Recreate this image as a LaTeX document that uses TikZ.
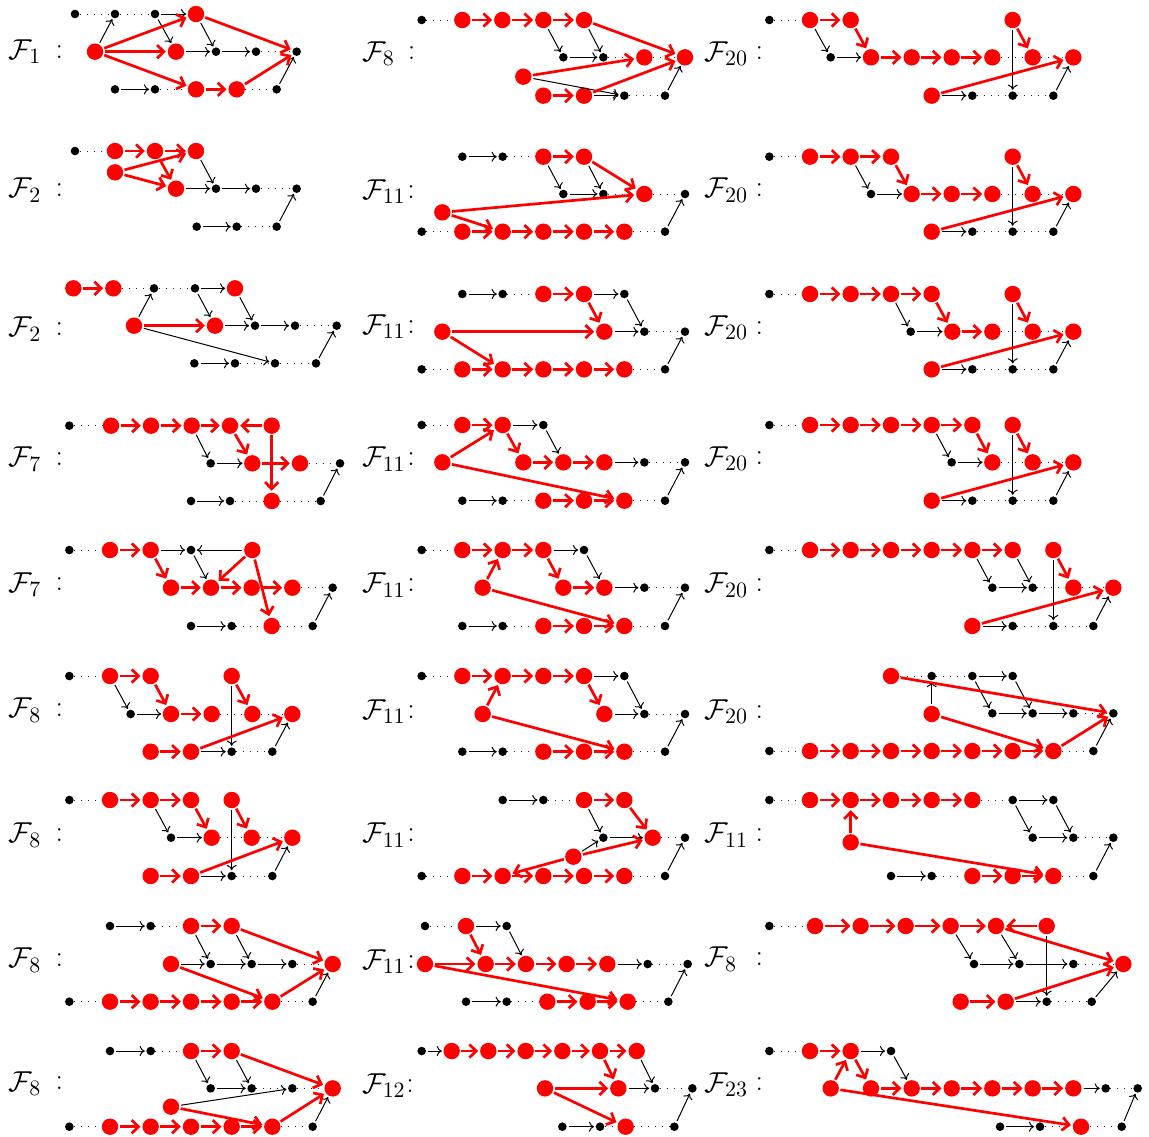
\documentclass[tikz,border=0pt]{standalone}
\usetikzlibrary{arrows.meta}
\tikzset{
  bdot/.style={circle, fill=black, inner sep=0pt, minimum size=4.3pt},
  rdot/.style={circle, fill=red, inner sep=0pt, minimum size=8.2pt},
  dotln/.style={line width=0.5pt, black!85, dash pattern=on 0.5pt off 3pt},
  blk/.style={line width=0.5pt, -{To[length=2.6pt,width=5pt]}, shorten >=0.6pt, shorten <=0.8pt},
  redarr/.style={red, line width=1.35pt, -{Straight Barb[length=3.4pt,width=6.6pt]}, shorten >=0.8pt, shorten <=0.6pt},
  lab/.style={inner sep=0pt, font=\fontsize{15}{18}\selectfont},
  zs/.style 2 args={shift={(#1pt,#2pt)}, x=0.166667pt, y=-0.166667pt}
}
\newcommand\BN[3]{\node[bdot] (\PN#1) at (#2,#3) {};}
\newcommand\RN[3]{\node[rdot] (\PN#1) at (#2,#3) {};}
\newcommand\DE[1]{\foreach \xa/\xb in {#1} {\draw[dotln] (\PN\xa) -- (\PN\xb);}}
\newcommand\KE[1]{\foreach \xa/\xb in {#1} {\draw[blk] (\PN\xa) -- (\PN\xb);}}
\newcommand\RE[1]{\foreach \xa/\xb in {#1} {\draw[redarr] (\PN\xa) -- (\PN\xb);}}
\newcommand\LAB[4]{\node[lab, anchor=west] (\PN lab) at (#1,#3) {$\mathcal{F}_{#4}$};
  \node[lab] (\PN col) at (#2,#3) {:};}
\begin{document}
\begin{tikzpicture}[x=0.5pt, y=-0.5pt]
\fill[white] (0,0) rectangle (1149,1136);
\useasboundingbox (0,0) rectangle (1149,1136);

% ---------- zoom 1 ----------
\begin{scope}[zs={0}{0}]
\def\PN{La}
\BN{a}{225}{42}\BN{b}{345}{42}\BN{c}{465}{42}\RN{d}{588}{42}
\RN{e}{285}{155}\RN{f}{528}{155}\BN{g}{648}{155}\BN{h}{768}{155}\BN{i}{890}{155}
\BN{j}{345}{268}\BN{k}{465}{268}\RN{l}{588}{268}\RN{m}{710}{268}\BN{n}{830}{268}
\DE{a/b,b/c,h/i,k/l,m/n}
\KE{c/d,f/g,g/h,j/k,e/b,c/f,d/g,n/i}
\RE{e/d,e/f,e/l,l/m,d/i,m/i}
\LAB{25}{178}{155}{1}
\def\PN{Lb}
\BN{a}{225}{453}\RN{b}{345}{453}\RN{c}{465}{453}\RN{d}{588}{453}
\RN{e}{345}{517}
\RN{f}{528}{566}\BN{g}{648}{566}\BN{h}{768}{566}\BN{i}{890}{566}
\BN{j}{590}{680}\BN{k}{710}{680}\BN{l}{830}{680}
\DE{a/b,h/i,k/l}
\KE{d/g,f/g,g/h,j/k,l/i}
\RE{b/c,c/d,e/d,e/f,c/f}
\LAB{25}{178}{570}{2}
\end{scope}

% ---------- zoom 2 ----------
\begin{scope}[zs={177.5}{0}]
\def\PN{Ma}
\BN{a}{200}{60}\RN{b}{322}{60}\RN{c}{442}{60}\RN{d}{565}{60}\RN{e}{687}{60}
\BN{f}{625}{172}\BN{g}{745}{172}\RN{h}{868}{172}\RN{i}{990}{172}
\RN{j}{505}{230}
\RN{k}{565}{287}\RN{l}{687}{287}\BN{m}{808}{287}\BN{n}{930}{287}
\DE{a/b,g/h,h/i,m/n}
\KE{d/f,e/g,f/g,l/m,j/m,n/i}
\RE{b/c,c/d,d/e,e/i,j/h,k/l,l/i}
\LAB{20}{170}{160}{8}
\def\PN{Mb}
\BN{a}{322}{470}\BN{b}{443}{470}\RN{c}{565}{470}\RN{d}{687}{470}
\BN{e}{625}{582}\BN{f}{745}{582}\RN{g}{868}{582}\BN{h}{990}{582}
\RN{i}{262}{637}
\BN{j}{200}{695}\RN{k}{322}{695}\RN{l}{443}{695}\RN{m}{565}{695}\RN{n}{687}{695}\RN{o}{808}{695}\BN{p}{930}{695}
\DE{b/c,f/g,g/h,j/k,o/p}
\KE{a/b,c/e,d/f,e/f,p/h}
\RE{c/d,d/g,i/g,i/l,k/l,l/m,m/n,n/o}
\LAB{20}{168}{575}{11}
\end{scope}

% ---------- zoom 3 ----------
\begin{scope}[zs={350}{0}]
\def\PN{Ra}
\BN{a}{208}{60}\RN{b}{330}{60}\RN{c}{452}{60}\RN{d}{938}{60}
\BN{e}{392}{172}\RN{f}{513}{172}\RN{g}{635}{172}\RN{h}{755}{172}\RN{i}{877}{172}\RN{j}{998}{172}\RN{k}{1120}{172}
\RN{l}{695}{287}\BN{m}{817}{287}\BN{n}{938}{287}\BN{o}{1060}{287}
\DE{a/b,i/j,j/k,m/n,n/o}
\KE{b/e,e/f,d/n,l/m,o/k}
\RE{b/c,c/f,f/g,g/h,h/i,d/j,l/k}
\LAB{12}{178}{160}{20}
\def\PN{Rb}
\BN{a}{208}{470}\RN{b}{330}{470}\RN{c}{452}{470}\RN{d}{573}{470}\RN{e}{938}{470}
\BN{f}{513}{582}\RN{g}{635}{582}\RN{h}{755}{582}\RN{i}{877}{582}\RN{j}{998}{582}\RN{k}{1120}{582}
\RN{l}{695}{695}\BN{m}{817}{695}\BN{n}{938}{695}\BN{o}{1060}{695}
\DE{a/b,i/j,j/k,m/n,n/o}
\KE{c/f,f/g,e/n,l/m,o/k}
\RE{b/c,c/d,d/g,g/h,h/i,e/j,l/k}
\LAB{12}{178}{570}{20}
\end{scope}

% ---------- zoom 4 ----------
\begin{scope}[zs={0}{-127.5}]
\def\PN{Lc}
\RN{a}{220}{100}\RN{b}{340}{100}\BN{c}{462}{100}\BN{d}{585}{100}\RN{e}{705}{100}
\RN{f}{402}{212}\RN{g}{645}{212}\BN{h}{765}{212}\BN{i}{885}{212}\BN{j}{1010}{212}
\BN{k}{583}{325}\BN{l}{705}{325}\BN{m}{825}{325}\BN{n}{948}{325}
\DE{b/c,c/d,i/j,l/m,m/n}
\KE{d/e,f/c,d/g,e/h,g/h,h/i,k/l,f/m,n/j}
\RE{a/b,f/g}
\LAB{25}{178}{222}{2}
\def\PN{Ld}
\BN{a}{208}{512}\RN{b}{333}{512}\RN{c}{453}{512}\RN{d}{575}{512}\RN{e}{690}{512}\RN{f}{815}{512}
\BN{g}{632}{625}\RN{h}{757}{625}\RN{i}{900}{625}\BN{j}{1020}{625}
\BN{k}{573}{738}\BN{l}{690}{738}\RN{m}{815}{738}\BN{n}{962}{738}
\DE{a/b,i/j,l/m,m/n}
\KE{d/g,g/h,k/l,n/j}
\RE{b/c,c/d,d/e,f/e,e/h,h/i,f/m}
\LAB{25}{178}{612}{7}
\end{scope}

% ---------- zoom 5 ----------
\begin{scope}[zs={177.5}{-127.5}]
\def\PN{Mc}
\BN{a}{322}{117}\BN{b}{443}{117}\RN{c}{565}{117}\RN{d}{687}{117}\BN{e}{808}{117}
\RN{f}{262}{230}\RN{g}{748}{230}\BN{h}{868}{230}\BN{i}{990}{230}
\BN{j}{200}{343}\RN{k}{322}{343}\RN{l}{443}{343}\RN{m}{565}{343}\RN{n}{687}{343}\RN{o}{808}{343}\BN{p}{930}{343}
\DE{b/c,h/i,j/k,o/p}
\KE{a/b,d/e,g/h,e/h,p/i}
\RE{c/d,d/g,f/g,f/l,k/l,l/m,m/n,n/o}
\LAB{20}{168}{215}{11}
\def\PN{Md}
\BN{a}{200}{510}\RN{b}{322}{510}\RN{c}{443}{510}\BN{d}{565}{510}
\RN{e}{262}{622}\RN{f}{505}{622}\RN{g}{625}{622}\RN{h}{748}{622}\BN{i}{868}{622}\BN{j}{990}{622}
\BN{k}{322}{737}\BN{l}{443}{737}\RN{m}{565}{737}\RN{n}{687}{737}\RN{o}{808}{737}\BN{p}{930}{737}
\DE{a/b,i/j,l/m,o/p}
\KE{c/d,d/g,h/i,k/l,p/j}
\RE{b/c,e/c,c/f,f/g,g/h,e/o,m/n,n/o}
\LAB{20}{168}{612}{11}
\end{scope}

% ---------- zoom 6 ----------
\begin{scope}[zs={350}{-127.5}]
\def\PN{Rc}
\BN{a}{208}{117}\RN{b}{330}{117}\RN{c}{452}{117}\RN{d}{573}{117}\RN{e}{695}{117}\RN{f}{938}{117}
\BN{g}{632}{230}\RN{h}{757}{230}\RN{i}{877}{230}\RN{j}{998}{230}\RN{k}{1120}{230}
\RN{l}{695}{343}\BN{m}{817}{343}\BN{n}{938}{343}\BN{o}{1060}{343}
\DE{a/b,i/j,j/k,m/n,n/o}
\KE{d/g,g/h,f/n,l/m,o/k}
\RE{b/c,c/d,d/e,e/h,h/i,f/j,l/k}
\LAB{12}{178}{218}{20}
\def\PN{Rd}
\BN{a}{208}{510}\RN{b}{330}{510}\RN{c}{452}{510}\RN{d}{573}{510}\RN{e}{695}{510}\RN{f}{817}{510}\RN{g}{938}{510}
\BN{h}{755}{622}\RN{i}{877}{622}\RN{j}{998}{622}\RN{k}{1120}{622}
\RN{l}{695}{737}\BN{m}{817}{737}\BN{n}{938}{737}\BN{o}{1060}{737}
\DE{a/b,i/j,j/k,m/n,n/o}
\KE{e/h,h/i,g/n,l/m,o/k}
\RE{b/c,c/d,d/e,e/f,f/i,g/j,l/k}
\LAB{12}{178}{610}{20}
\end{scope}

% ---------- zoom 7 ----------
\begin{scope}[zs={0}{-257.5}]
\def\PN{Le}
\BN{a}{208}{105}\RN{b}{330}{105}\RN{c}{452}{105}\BN{d}{573}{105}\RN{e}{757}{105}
\RN{f}{513}{218}\RN{g}{633}{218}\RN{h}{755}{218}\RN{i}{877}{218}\BN{j}{998}{218}
\BN{k}{573}{333}\BN{l}{695}{333}\RN{m}{815}{333}\BN{n}{938}{333}
\DE{a/b,i/j,l/m,m/n}
\KE{c/d,e/d,d/g,k/l,n/j}
\RE{b/c,c/f,f/g,g/h,h/i,e/g,e/m}
\LAB{25}{178}{208}{7}
\def\PN{Lf}
\BN{a}{208}{483}\RN{b}{330}{483}\RN{c}{452}{483}\RN{d}{695}{483}
\BN{e}{392}{597}\RN{f}{513}{597}\RN{g}{635}{597}\RN{h}{757}{597}\RN{i}{877}{597}
\RN{j}{452}{710}\RN{k}{573}{710}\BN{l}{695}{710}\BN{m}{817}{710}
\DE{a/b,g/h,h/i,l/m}
\KE{b/e,e/f,d/l,k/l,m/i}
\RE{b/c,c/f,f/g,d/h,j/k,k/i}
\LAB{25}{178}{585}{8}
\end{scope}

% ---------- zoom 8 ----------
\begin{scope}[zs={177.5}{-257.5}]
\def\PN{Me}
\BN{a}{200}{105}\RN{b}{322}{105}\RN{c}{443}{105}\RN{d}{565}{105}\BN{e}{687}{105}
\RN{f}{383}{218}\RN{g}{625}{218}\RN{h}{748}{218}\BN{i}{868}{218}\BN{j}{990}{218}
\BN{k}{322}{333}\BN{l}{443}{333}\RN{m}{565}{333}\RN{n}{687}{333}\RN{o}{808}{333}\BN{p}{930}{333}
\DE{a/b,i/j,l/m,o/p}
\KE{d/e,e/h,h/i,k/l,p/j}
\RE{b/c,c/d,f/c,d/g,g/h,f/o,m/n,n/o}
\LAB{20}{168}{210}{11}
\def\PN{Mf}
\BN{a}{200}{483}\RN{b}{322}{483}\RN{c}{443}{483}\RN{d}{565}{483}\RN{e}{687}{483}\BN{f}{808}{483}
\RN{g}{383}{597}\RN{h}{748}{597}\BN{i}{868}{597}\BN{j}{990}{597}
\BN{k}{322}{710}\BN{l}{443}{710}\RN{m}{565}{710}\RN{n}{687}{710}\RN{o}{808}{710}\BN{p}{930}{710}
\DE{a/b,i/j,l/m,o/p}
\KE{e/f,f/i,h/i,k/l,p/j}
\RE{b/c,c/d,d/e,g/c,e/h,g/o,m/n,n/o}
\LAB{20}{168}{590}{11}
\end{scope}

% ---------- zoom 9 ----------
\begin{scope}[zs={350}{-257.5}]
\def\PN{Re}
\BN{a}{208}{105}\RN{b}{330}{105}\RN{c}{452}{105}\RN{d}{573}{105}\RN{e}{695}{105}\RN{f}{817}{105}\RN{g}{938}{105}\RN{h}{1060}{105}
\BN{i}{877}{218}\BN{j}{998}{218}\RN{k}{1120}{218}\RN{l}{1240}{218}
\RN{m}{817}{333}\BN{n}{938}{333}\BN{o}{1060}{333}\BN{p}{1180}{333}
\DE{a/b,j/k,k/l,n/o,o/p}
\KE{f/i,g/j,i/j,h/o,m/n,p/l}
\RE{b/c,c/d,d/e,e/f,f/g,h/k,m/l}
\LAB{12}{178}{210}{20}
\def\PN{Rf}
\RN{a}{573}{483}\BN{b}{695}{483}\BN{c}{817}{483}\BN{d}{938}{483}
\RN{e}{695}{597}\BN{f}{877}{595}\BN{g}{998}{595}\BN{h}{1120}{595}\BN{i}{1240}{595}
\BN{j}{208}{708}\RN{k}{330}{708}\RN{l}{452}{708}\RN{m}{573}{708}\RN{n}{695}{708}\RN{o}{817}{708}\RN{p}{938}{708}\RN{q}{1060}{708}\BN{r}{1180}{708}
\DE{a/b,b/c,h/i,j/k,q/r}
\KE{c/d,e/b,c/f,d/g,f/g,g/h,r/i}
\RE{a/i,e/q,k/l,l/m,m/n,n/o,o/p,p/q,q/i}
\LAB{12}{178}{590}{20}
\end{scope}

% ---------- zoom 10 ----------
\begin{scope}[zs={0}{-382.5}]
\def\PN{Lg}
\BN{a}{208}{105}\RN{b}{330}{105}\RN{c}{452}{105}\RN{d}{573}{105}\RN{e}{695}{105}
\BN{f}{513}{218}\RN{g}{635}{218}\RN{h}{755}{218}\RN{i}{877}{218}
\RN{j}{452}{333}\RN{k}{573}{333}\BN{l}{695}{333}\BN{m}{817}{333}
\DE{a/b,g/h,h/i,l/m}
\KE{c/f,f/g,e/l,k/l,m/i}
\RE{b/c,c/d,d/g,e/h,j/k,k/i}
\LAB{25}{178}{210}{8}
\def\PN{Lh}
\BN{a}{330}{483}\BN{b}{452}{483}\RN{c}{573}{483}\RN{d}{695}{483}
\RN{e}{513}{597}\BN{f}{632}{597}\BN{g}{755}{597}\BN{h}{877}{597}\RN{i}{998}{597}
\BN{j}{208}{710}\RN{k}{330}{710}\RN{l}{452}{710}\RN{m}{573}{710}\RN{n}{695}{710}\RN{o}{817}{710}\BN{p}{938}{710}
\DE{b/c,h/i,j/k,o/p}
\KE{a/b,c/f,d/g,e/f,f/g,g/h,p/i}
\RE{c/d,d/i,e/o,k/l,l/m,m/n,n/o,o/i}
\LAB{25}{178}{585}{8}
\def\PN{Li}
\BN{a}{330}{858}\BN{b}{452}{858}\RN{c}{573}{858}\RN{d}{695}{858}
\BN{e}{632}{970}\BN{f}{755}{970}\BN{g}{877}{970}\RN{h}{998}{970}
\RN{i}{513}{1025}
\BN{j}{208}{1085}\RN{k}{330}{1085}\RN{l}{452}{1085}\RN{m}{573}{1085}\RN{n}{695}{1085}\RN{o}{817}{1085}\BN{p}{938}{1085}
\DE{b/c,f/g,g/h,j/k,o/p}
\KE{a/b,c/e,d/f,e/f,i/g,p/h}
\RE{c/d,d/h,i/o,k/l,l/m,m/n,n/o,o/h}
\LAB{25}{178}{955}{8}
\end{scope}

% ---------- zoom 11 ----------
\begin{scope}[zs={177.5}{-382.5}]
\def\PN{Mg}
\BN{a}{443}{105}\BN{b}{565}{105}\RN{c}{687}{105}\RN{d}{808}{105}
\BN{e}{745}{218}\RN{f}{893}{218}\BN{g}{990}{218}
\RN{h}{655}{275}
\BN{i}{200}{333}\RN{j}{322}{333}\RN{k}{443}{333}\RN{l}{565}{333}\RN{m}{687}{333}\RN{n}{808}{333}\BN{o}{930}{333}
\DE{b/c,f/g,i/j,n/o}
\KE{a/b,c/e,e/f,h/e,o/g}
\RE{c/d,d/f,h/f,h/k,j/k,k/l,l/m,m/n}
\LAB{20}{168}{210}{11}
\def\PN{Mh}
\BN{a}{210}{483}\RN{b}{333}{483}\BN{c}{455}{483}
\RN{d}{210}{597}\RN{e}{392}{597}\RN{f}{513}{597}\RN{g}{635}{597}\RN{h}{757}{597}\BN{i}{878}{597}\BN{j}{998}{597}
\BN{k}{333}{710}\BN{l}{455}{710}\RN{m}{577}{710}\RN{n}{698}{710}\RN{o}{818}{710}\BN{p}{940}{710}
\DE{a/b,i/j,l/m,o/p}
\KE{b/c,c/f,h/i,k/l,p/j}
\RE{b/e,d/e,e/f,f/g,g/h,d/o,m/n,n/o}
\LAB{20}{168}{590}{11}
\def\PN{Mi}
\BN{a}{200}{858}\RN{b}{290}{858}\RN{c}{400}{858}\RN{d}{512}{858}\RN{e}{622}{858}\RN{f}{735}{858}\RN{g}{845}{858}
\RN{h}{570}{970}\RN{i}{790}{970}\BN{j}{900}{970}\BN{k}{1012}{970}
\BN{l}{622}{1085}\BN{m}{735}{1085}\RN{n}{812}{1085}\BN{o}{958}{1085}
\DE{j/k,m/n,n/o}
\KE{a/b,g/j,i/j,l/m,o/k}
\RE{b/c,c/d,d/e,e/f,f/g,f/i,h/i,h/n}
\LAB{20}{165}{962}{12}
\end{scope}

% ---------- zoom 12 ----------
\begin{scope}[zs={350}{-382.5}]
\def\PN{Rg}
\BN{a}{208}{105}\RN{b}{330}{105}\RN{c}{452}{105}\RN{d}{573}{105}\RN{e}{695}{105}\RN{f}{817}{105}\BN{g}{938}{105}\BN{h}{1060}{105}
\RN{i}{452}{232}\BN{j}{998}{218}\BN{k}{1120}{218}\BN{l}{1240}{218}
\BN{m}{573}{333}\BN{n}{695}{333}\RN{o}{817}{333}\RN{p}{938}{333}\RN{q}{1060}{333}\BN{r}{1180}{333}
\DE{a/b,f/g,k/l,n/o,q/r}
\KE{g/h,g/j,h/k,j/k,m/n,r/l}
\RE{b/c,c/d,d/e,e/f,i/c,i/q,o/p,p/q}
\LAB{12}{178}{210}{11}
\def\PN{Rh}
\BN{a}{208}{483}\RN{b}{345}{483}\RN{c}{482}{483}\RN{d}{617}{483}\RN{e}{752}{483}\RN{f}{888}{483}\RN{g}{1040}{483}
\BN{h}{822}{597}\BN{i}{958}{597}\BN{j}{1120}{597}\RN{k}{1270}{597}
\RN{l}{782}{710}\RN{m}{917}{710}\BN{n}{1040}{710}\BN{o}{1175}{710}
\DE{a/b,j/k,n/o}
\KE{e/h,f/i,h/i,i/j,g/n,m/n,o/k}
\RE{b/c,c/d,d/e,e/f,g/f,f/k,l/m,m/k}
\LAB{12}{178}{582}{8}
\def\PN{Ri}
\BN{a}{208}{858}\RN{b}{330}{858}\RN{c}{452}{858}\BN{d}{573}{858}
\RN{e}{392}{970}\RN{f}{513}{970}\RN{g}{635}{970}\RN{h}{755}{970}\RN{i}{877}{970}\RN{j}{998}{970}\RN{k}{1120}{970}\BN{l}{1217}{970}\BN{m}{1313}{970}
\BN{n}{900}{1085}\BN{o}{1020}{1085}\RN{p}{1143}{1085}\BN{q}{1265}{1085}
\DE{a/b,l/m,o/p,p/q}
\KE{c/d,d/g,k/l,n/o,q/m}
\RE{b/c,e/c,c/f,f/g,g/h,h/i,i/j,j/k,e/p}
\LAB{12}{178}{958}{23}
\end{scope}
\end{tikzpicture}
\end{document}
